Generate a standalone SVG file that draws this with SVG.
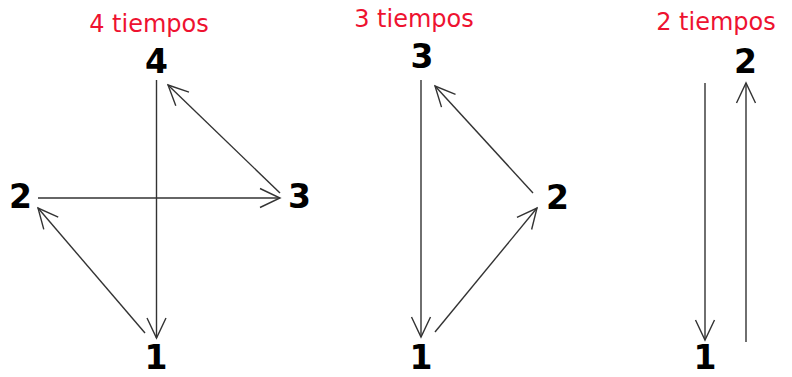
<svg xmlns="http://www.w3.org/2000/svg" width="792" height="377" viewBox="0 0 792 377">
<style>
.title{font-family:"DejaVu Sans",Verdana,sans-serif;font-size:24px;fill:#ee1230;text-anchor:middle}
.num{font-family:"DejaVu Sans","Liberation Sans",sans-serif;font-weight:bold;font-size:33px;fill:#000;text-anchor:middle}
.ln{stroke:#333;stroke-width:1.4;fill:none;marker-end:url(#ah)}
</style>
<defs>
<marker id="ah" markerUnits="userSpaceOnUse" viewBox="-22 -12 24 24" refX="0" refY="0" markerWidth="24" markerHeight="24" orient="auto">
<path d="M-20,-9.5 L0,0 L-20,9.5" fill="none" stroke="#333" stroke-width="1.4"/>
</marker>
</defs>
<rect width="792" height="377" fill="#fff"/>
<g id="titles">
<text class="title" x="149" y="32">4 tiempos</text>
<text class="title" x="414" y="27">3 tiempos</text>
<text class="title" x="716" y="30">2 tiempos</text>
</g>
<g id="connectors">
<line class="ln" x1="156.5" y1="80" x2="156.5" y2="338"/>
<line class="ln" x1="145" y1="333" x2="38" y2="208"/>
<line class="ln" x1="38" y1="198" x2="280" y2="198"/>
<line class="ln" x1="280" y1="193" x2="168" y2="85"/>
<line class="ln" x1="421" y1="80" x2="421" y2="337"/>
<line class="ln" x1="435" y1="332" x2="537" y2="208"/>
<line class="ln" x1="533" y1="193" x2="435" y2="86"/>
<line class="ln" x1="705" y1="83" x2="705" y2="340"/>
<line class="ln" x1="746" y1="342" x2="746" y2="83"/>
</g>
<g id="n4-4"><text class="num" x="156.5" y="73">4</text></g>
<g id="n4-1"><text class="num" x="156" y="369">1</text></g>
<g id="n4-2"><text class="num" x="20.5" y="208">2</text></g>
<g id="n4-3"><text class="num" x="299.5" y="208">3</text></g>
<g id="n3-3"><text class="num" x="422" y="68">3</text></g>
<g id="n3-1"><text class="num" x="421" y="369">1</text></g>
<g id="n3-2"><text class="num" x="557.5" y="209">2</text></g>
<g id="n2-2"><text class="num" x="745.5" y="73">2</text></g>
<g id="n2-1"><text class="num" x="705" y="369">1</text></g>
</svg>
